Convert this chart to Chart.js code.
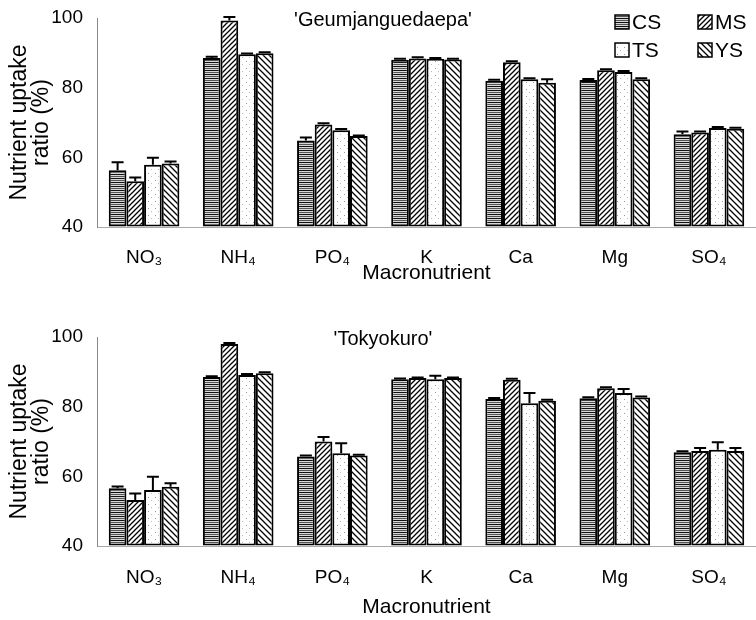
<!DOCTYPE html>
<html>
<head>
<meta charset="utf-8">
<script src="https://cdn.jsdelivr.net/npm/chart.js@4.4.0/dist/chart.umd.min.js"></script>
<style>
  body { margin: 0; background: #fff; overflow: hidden; }
  .box { position: absolute; left: 0; width: 756px; }
  #top { top: -10px; height: 310px; }
  #bottom { top: 300px; height: 320px; }
</style>
</head>
<body>
<div class="box" id="top"><canvas id="chartTop"></canvas></div>
<div class="box" id="bottom"><canvas id="chartBottom"></canvas></div>
<script>
const categories = ['NO₃', 'NH₄', 'PO₄', 'K', 'Ca', 'Mg', 'SO₄']
const seriesNames = ['CS', 'MS', 'TS', 'YS']
const yTicks = [40, 60, 80, 100]

// 'Geumjanguedaepa'
const csTop = [56.3, 88.5, 64.8, 88.0, 82.0, 82.2, 66.6]
const msTop = [53.1, 99.3, 69.4, 88.4, 87.3, 85.0, 67.1]
const tsTop = [57.9, 89.6, 67.8, 88.3, 82.4, 84.5, 68.4]
const ysTop = [58.2, 89.9, 66.1, 88.1, 81.4, 82.4, 68.2]
const csErrTop = [2.3, 0.4, 0.9, 0.3, 0.3, 0.3, 0.8]
const msErrTop = [1.1, 1.0, 0.4, 0.3, 0.3, 0.3, 0.3]
const tsErrTop = [2.0, 0.2, 0.3, 0.2, 0.3, 0.3, 0.3]
const ysErrTop = [0.6, 0.3, 0.2, 0.2, 1.0, 0.3, 0.3]

// 'Tokyokuro'
const csBot = [56.6, 88.5, 65.7, 87.9, 82.2, 82.4, 66.9]
const msBot = [53.2, 98.0, 70.0, 88.2, 87.7, 85.3, 67.3]
const tsBot = [56.1, 89.1, 66.6, 87.9, 81.0, 83.9, 67.6]
const ysBot = [57.0, 89.6, 66.0, 88.2, 81.7, 82.6, 67.3]
const csErrBot = [0.5, 0.2, 0.3, 0.2, 0.3, 0.3, 0.3]
const msErrBot = [1.9, 0.3, 1.3, 0.2, 0.3, 0.3, 0.8]
const tsErrBot = [3.8, 0.3, 2.9, 1.0, 2.9, 1.2, 2.2]
const ysErrBot = [1.0, 0.3, 0.2, 0.2, 0.3, 0.3, 0.8]

const FONT = "'Liberation Sans', Arial, sans-serif"

// hatch fills, one per series
function makePattern(kind) {
    const c = document.createElement('canvas')
    const p = c.getContext('2d')
    if (kind === 'CS') {
        c.width = 8; c.height = 4
        p.fillStyle = '#d8d8d8'; p.fillRect(0, 0, 8, 4)
        p.fillStyle = '#111'; p.fillRect(0, 0, 8, 1)
        p.fillStyle = '#555'; p.fillRect(0, 2, 8, 1)
    } else if (kind === 'TS') {
        c.width = 7; c.height = 7
        p.fillStyle = '#fff'; p.fillRect(0, 0, 7, 7)
        p.fillStyle = '#999'; p.fillRect(1, 1, 1, 1)
        p.fillStyle = '#bbb'; p.fillRect(4, 4, 1, 1)
    } else {
        const s = kind === 'MS' ? 5 : 6
        c.width = s; c.height = s
        p.fillStyle = '#fff'; p.fillRect(0, 0, s, s)
        p.strokeStyle = '#000'; p.lineWidth = 1.3
        p.beginPath()
        if (kind === 'MS') {
            p.moveTo(-1, s + 1); p.lineTo(s + 1, -1)
            p.moveTo(-1, 1); p.lineTo(1, -1)
            p.moveTo(s - 1, s + 1); p.lineTo(s + 1, s - 1)
        } else {
            p.moveTo(-1, -1); p.lineTo(s + 1, s + 1)
            p.moveTo(s - 1, -1); p.lineTo(s + 1, 1)
            p.moveTo(-1, s - 1); p.lineTo(1, s + 1)
        }
        p.stroke()
    }
    return p.createPattern(c, 'repeat')
}
const fills = seriesNames.map(makePattern)

const errorBars = {
    id: 'errorBars',
    afterDatasetsDraw(chart) {
        const ctx = chart.ctx
        const y = chart.scales.y
        ctx.save()
        ctx.strokeStyle = '#000'
        ctx.lineWidth = 2
        chart.data.datasets.forEach((ds, di) => {
            const meta = chart.getDatasetMeta(di)
            meta.data.forEach((bar, i) => {
                const v = ds.data[i]
                const e = ds.err[i]
                const y0 = y.getPixelForValue(v)
                const y1 = y.getPixelForValue(v + e)
                ctx.beginPath()
                ctx.moveTo(bar.x, y0)
                ctx.lineTo(bar.x, y1)
                ctx.moveTo(bar.x - 6, y1)
                ctx.lineTo(bar.x + 6, y1)
                ctx.stroke()
            })
        })
        ctx.restore()
    }
}

const cultivarTitle = {
    id: 'cultivarTitle',
    afterDraw(chart, args, opts) {
        const ctx = chart.ctx
        ctx.save()
        ctx.font = '20px ' + FONT
        ctx.fillStyle = '#000'
        ctx.textAlign = 'center'
        ctx.textBaseline = 'middle'
        ctx.fillText(opts.text, 383, chart.chartArea.top + opts.dy)
        ctx.restore()
    }
}

const gridLegend = {
    id: 'gridLegend',
    afterDraw(chart, args, opts) {
        if (!opts.show) return
        const ctx = chart.ctx
        const top = chart.chartArea.top
        const spots = [[615, -3], [698, -3], [615, 25], [698, 25]]
        ctx.save()
        ctx.font = '21px ' + FONT
        ctx.textBaseline = 'middle'
        chart.data.datasets.forEach((ds, i) => {
            const x = spots[i][0]
            const y = top + spots[i][1]
            ctx.fillStyle = ds.backgroundColor
            ctx.fillRect(x, y, 14, 14)
            ctx.strokeStyle = '#000'
            ctx.lineWidth = 1.5
            ctx.strokeRect(x, y, 14, 14)
            ctx.fillStyle = '#000'
            ctx.fillText(ds.label, x + 17, y + 8)
        })
        ctx.restore()
    }
}

function makeChart(id, title, values, errs, o) {
    const datasets = seriesNames.map((name, i) => ({
        label: name,
        data: values[i],
        err: errs[i],
        base: 40,
        backgroundColor: fills[i],
        borderColor: '#000',
        borderWidth: 2,
        borderSkipped: false,
        categoryPercentage: 0.75,
        barPercentage: 1.0
    }))
    return new Chart(document.getElementById(id), {
        type: 'bar',
        data: { labels: categories, datasets: datasets },
        options: {
            responsive: true,
            maintainAspectRatio: false,
            animation: false,
            layout: { autoPadding: false, padding: { top: o.top, right: -6, bottom: 0, left: 0 } },
            plugins: {
                legend: { display: false },
                tooltip: { enabled: false },
                cultivarTitle: { text: title, dy: o.titleDy },
                gridLegend: { show: o.legend }
            },
            scales: {
                x: {
                    grid: { display: false },
                    border: { display: true, color: '#aaa', dash: [1, 3] },
                    ticks: { color: '#000', font: { family: FONT, size: 19 }, padding: o.tickPad },
                    title: {
                        display: true,
                        text: 'Macronutrient',
                        color: '#000',
                        font: { family: FONT, size: 21 },
                        padding: { top: 0, bottom: o.xTitlePad }
                    },
                    afterFit(scale) { scale.height = o.xHeight }
                },
                y: {
                    min: 40,
                    max: 100,
                    afterBuildTicks(scale) { scale.ticks = yTicks.map(v => ({ value: v })) },
                    grid: { display: true, drawOnChartArea: false, drawTicks: false },
                    border: { display: true, color: '#888', dash: [2, 2] },
                    ticks: { color: '#000', font: { family: FONT, size: 19 }, padding: 14 },
                    title: {
                        display: true,
                        text: ['Nutrient uptake', 'ratio (%)'],
                        color: '#000',
                        font: { family: FONT, size: 23, lineHeight: 0.96 },
                        padding: { top: 9, bottom: 0 }
                    },
                    afterFit(scale) { scale.width = 97 }
                }
            }
        },
        plugins: [errorBars, cultivarTitle, gridLegend]
    })
}

makeChart('chartTop', "'Geumjanguedaepa'",
    [csTop, msTop, tsTop, ysTop], [csErrTop, msErrTop, tsErrTop, ysErrTop],
    { top: 28, xHeight: 73, xTitlePad: 14, tickPad: 11, titleDy: 2, legend: true })

makeChart('chartBottom', "'Tokyokuro'",
    [csBot, msBot, tsBot, ysBot], [csErrBot, msErrBot, tsErrBot, ysErrBot],
    { top: 37, xHeight: 74, xTitlePad: 0, tickPad: 12, titleDy: 2, legend: false })
</script>
</body>
</html>
